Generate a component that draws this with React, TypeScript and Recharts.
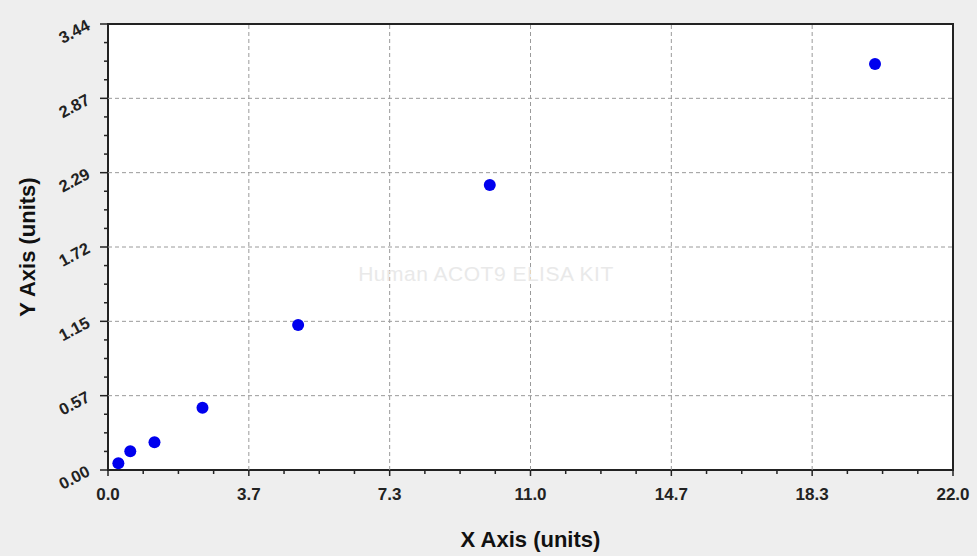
import {
  ReferenceArea,
  ReferenceLine,
  Scatter,
  ScatterChart,
  XAxis,
  YAxis,
} from "recharts";

const concentration = [0.27, 0.58, 1.21, 2.46, 4.95, 9.94, 19.97];
const absorbance = [0.052, 0.144, 0.214, 0.48, 1.118, 2.198, 3.131];

const xMajorTicks = [0, 11 / 3, 22 / 3, 11, 44 / 3, 55 / 3, 22];
const xTickLabels = ["0.0", "3.7", "7.3", "11.0", "14.7", "18.3", "22.0"];
const yMajorTicks = [0, 0.5733, 1.1467, 1.72, 2.2933, 2.8667, 3.44];
const yTickLabels = ["0.00", "0.57", "1.15", "1.72", "2.29", "2.87", "3.44"];

const FONT = "Arial, 'Liberation Sans', sans-serif";
const AXIS = "#222";

/** majors plus 3 minor ticks between each pair */
function withMinors(majors: number[]): number[] {
  const out: number[] = [];
  majors.forEach((v, i) => {
    out.push(v);
    const next = majors[i + 1];
    if (next === undefined) return;
    for (let k = 1; k < 4; k++) out.push(v + ((next - v) * k) / 4);
  });
  return out;
}

const majorIndex = (list: number[], v: number) =>
  list.findIndex((m) => Math.abs(m - v) < 1e-6);

function XTick({ x, y, payload }: any) {
  const i = majorIndex(xMajorTicks, payload.value);
  const major = i >= 0;
  return (
    <g>
      <line x1={x} x2={x} y1={y} y2={y + (major ? 6 : 4)} stroke={AXIS} strokeWidth={1.5} />
      {major && (
        <text
          x={x}
          y={y + 30}
          textAnchor="middle"
          fontFamily={FONT}
          fontWeight="bold"
          fontSize={17}
          fill="#222"
        >
          {xTickLabels[i]}
        </text>
      )}
    </g>
  );
}

function YTick({ x, y, payload }: any) {
  const i = majorIndex(yMajorTicks, payload.value);
  const major = i >= 0;
  const tx = x - 17;
  const ty = y + 5;
  return (
    <g>
      <line x1={x - (major ? 8 : 4)} x2={x} y1={y} y2={y} stroke={AXIS} strokeWidth={1.5} />
      {major && (
        <text
          x={tx}
          y={ty}
          transform={`rotate(-28, ${tx}, ${ty})`}
          textAnchor="end"
          fontFamily={FONT}
          fontWeight="bold"
          fontSize={16.5}
          fill="#222"
        >
          {yTickLabels[i]}
        </text>
      )}
    </g>
  );
}

export default function App() {
  const data = concentration.map((x, i) => ({ x, y: absorbance[i] }));

  return (
    <div
      style={{
        position: "absolute",
        left: 0,
        top: 0,
        width: 977,
        height: 556,
        background: "#eeeeee",
      }}
    >
      <ScatterChart
        width={977}
        height={556}
        margin={{ top: 24, right: 24, bottom: 0, left: 0 }}
      >
        <XAxis
          type="number"
          dataKey="x"
          domain={[0, 22]}
          ticks={withMinors(xMajorTicks)}
          interval={0}
          tickSize={0}
          tickMargin={0}
          axisLine={false}
          tick={<XTick />}
          height={86}
          label={{
            value: "X Axis (units)",
            position: "insideBottom",
            offset: 9,
            fontFamily: FONT,
            fontWeight: "bold",
            fontSize: 22,
            fill: "#111",
          }}
        />
        <YAxis
          type="number"
          dataKey="y"
          domain={[0, 3.44]}
          ticks={withMinors(yMajorTicks)}
          interval={0}
          tickSize={0}
          tickMargin={0}
          axisLine={false}
          tick={<YTick />}
          width={108}
          label={{
            value: "Y Axis (units)",
            angle: -90,
            position: "insideLeft",
            offset: 27,
            style: { textAnchor: "middle" },
            fontFamily: FONT,
            fontWeight: "bold",
            fontSize: 22,
            fill: "#111",
          }}
        />
        {/* white plot background with frame */}
        <ReferenceArea
          x1={0}
          x2={22}
          y1={0}
          y2={3.44}
          fill="#ffffff"
          fillOpacity={1}
          stroke={AXIS}
          strokeWidth={2}
        />
        {xMajorTicks.slice(1, -1).map((v) => (
          <ReferenceLine key={`gx${v}`} x={v} stroke="#9a9a9a" strokeDasharray="4 3" />
        ))}
        {yMajorTicks.slice(1, -1).map((v) => (
          <ReferenceLine key={`gy${v}`} y={v} stroke="#9a9a9a" strokeDasharray="4 3" />
        ))}
        <Scatter
          data={data}
          isAnimationActive={false}
          shape={(p: any) => <circle cx={p.cx} cy={p.cy} r={6} fill="#0000ee" />}
        />
      </ScatterChart>
      {/* faint watermark */}
      <div
        style={{
          position: "absolute",
          left: 286,
          top: 262,
          width: 400,
          textAlign: "center",
          fontFamily: FONT,
          fontSize: 21,
          letterSpacing: 0.5,
          color: "#e9e9e9",
          pointerEvents: "none",
        }}
      >
        Human ACOT9 ELISA KIT
      </div>
    </div>
  );
}
